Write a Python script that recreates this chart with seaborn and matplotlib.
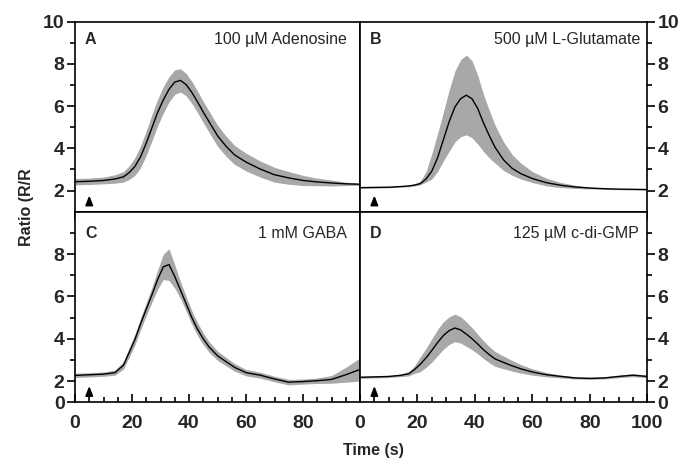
import numpy as np
import pandas as pd
import matplotlib
matplotlib.use('Agg')
import matplotlib.pyplot as plt
import seaborn as sns
from matplotlib.ticker import FixedLocator

sns.set_style('ticks')
plt.rcParams['font.family'] = ['Liberation Sans', 'DejaVu Sans']

# ---------------- data ----------------
time_s = [0, 5, 10, 14, 17, 19, 21, 23, 25, 27, 29, 31, 33, 35, 37, 39,
          41, 43, 45, 47, 50, 53, 56, 60, 65, 70, 75, 80, 85, 90, 95, 100]

a_mean = [2.42, 2.44, 2.48, 2.55, 2.65, 2.85, 3.14, 3.6, 4.25, 4.98, 5.7, 6.3,
          6.8, 7.14, 7.22, 7.02, 6.65, 6.2, 5.72, 5.27, 4.6, 4.1, 3.69, 3.35,
          3.02, 2.75, 2.6, 2.48, 2.41, 2.36, 2.32, 2.3]
a_err = [0.15, 0.15, 0.16, 0.2, 0.25, 0.32, 0.42, 0.52, 0.58, 0.62, 0.63, 0.63,
         0.6, 0.58, 0.55, 0.53, 0.52, 0.51, 0.5, 0.5, 0.5, 0.48, 0.45, 0.42,
         0.38, 0.35, 0.3, 0.24, 0.18, 0.14, 0.08, 0.05]

b_mean = [2.14, 2.15, 2.16, 2.19, 2.22, 2.26, 2.33, 2.55, 2.92, 3.55, 4.4, 5.25,
          5.95, 6.35, 6.52, 6.35, 5.88, 5.2, 4.6, 4.05, 3.45, 3.05, 2.8, 2.57,
          2.37, 2.25, 2.17, 2.12, 2.09, 2.07, 2.06, 2.05]
b_upper = [2.17, 2.18, 2.19, 2.22, 2.26, 2.32, 2.45, 2.9, 3.75, 4.7, 5.7, 6.75,
           7.65, 8.2, 8.42, 8.15, 7.45, 6.55, 5.8, 5.1, 4.3, 3.7, 3.3, 2.9,
           2.58, 2.38, 2.25, 2.17, 2.12, 2.1, 2.09, 2.08]
b_lower = [2.11, 2.12, 2.13, 2.16, 2.18, 2.22, 2.28, 2.4, 2.55, 2.9, 3.4, 3.85,
           4.3, 4.55, 4.64, 4.5, 4.2, 3.85, 3.55, 3.3, 2.95, 2.72, 2.55, 2.38,
           2.22, 2.14, 2.1, 2.08, 2.06, 2.04, 2.03, 2.02]

c_mean = [2.27, 2.3, 2.33, 2.4, 2.75, 3.35, 3.96, 4.7, 5.4, 6.08, 6.8, 7.4,
          7.5, 6.94, 6.3, 5.65, 5.0, 4.45, 4.0, 3.62, 3.2, 2.92, 2.65, 2.4,
          2.28, 2.1, 1.95, 1.98, 2.02, 2.08, 2.3, 2.55]
c_err = [0.1, 0.1, 0.1, 0.12, 0.18, 0.22, 0.25, 0.28, 0.3, 0.35, 0.45, 0.6,
         0.75, 0.55, 0.4, 0.35, 0.32, 0.3, 0.28, 0.25, 0.22, 0.2, 0.18, 0.15,
         0.14, 0.13, 0.13, 0.12, 0.13, 0.18, 0.35, 0.55]

d_mean = [2.18, 2.2, 2.22, 2.27, 2.35, 2.55, 2.8, 3.1, 3.45, 3.82, 4.15, 4.38,
          4.51, 4.42, 4.22, 4.0, 3.75, 3.48, 3.25, 3.05, 2.88, 2.72, 2.58, 2.43,
          2.3, 2.22, 2.15, 2.13, 2.15, 2.22, 2.28, 2.22]
d_err = [0.05, 0.05, 0.05, 0.06, 0.1, 0.18, 0.35, 0.45, 0.55, 0.62, 0.65, 0.65,
         0.65, 0.62, 0.58, 0.52, 0.46, 0.42, 0.38, 0.35, 0.3, 0.25, 0.2, 0.15,
         0.1, 0.07, 0.05, 0.05, 0.05, 0.06, 0.07, 0.06]

panel_letters = ['A', 'B', 'C', 'D']
panel_titles = ['100 µM Adenosine', '500 µM L-Glutamate', '1 mM GABA', '125 µM c-di-GMP']
stimulus_time = 5
x_major = [0, 20, 40, 60, 80, 100]
x_minor = [5, 10, 15, 25, 30, 35, 45, 50, 55, 65, 70, 75, 85, 90, 95]
top_yticks = [2, 4, 6, 8, 10]
top_ylabels = ['2', '4', '6', '8', '10']
bot_yticks = [1, 2, 4, 6, 8]
bot_ylabels = ['0', '2', '4', '6', '8']
y_minor = [3, 5, 7, 9]
xlabel = 'Time (s)'
ylabel = 'Ratio (R/R'

# ---------------- figure ----------------
W, H = 691, 459
fig = plt.figure(figsize=(W / 100, H / 100), dpi=100)

def fx(px):
    return px / W

def fy(py):
    return 1 - py / H

xl, xm, xr = 75, 360, 647.3
yt, ymid, yb = 21.7, 211.7, 402.3
axA = fig.add_axes([fx(xl), fy(ymid), fx(xm - xl), (ymid - yt) / H])
axB = fig.add_axes([fx(xm), fy(ymid), fx(xr - xm), (ymid - yt) / H])
axC = fig.add_axes([fx(xl), fy(yb), fx(xm - xl), (yb - ymid) / H])
axD = fig.add_axes([fx(xm), fy(yb), fx(xr - xm), (yb - ymid) / H])
axes = [axA, axB, axC, axD]

a_lo = [m - e for m, e in zip(a_mean, a_err)]
a_hi = [m + e for m, e in zip(a_mean, a_err)]
c_lo = [m - e for m, e in zip(c_mean, c_err)]
c_hi = [m + e for m, e in zip(c_mean, c_err)]
d_lo = [m - e for m, e in zip(d_mean, d_err)]
d_hi = [m + e for m, e in zip(d_mean, d_err)]

series = [(a_mean, a_lo, a_hi), (b_mean, b_lower, b_upper),
          (c_mean, c_lo, c_hi), (d_mean, d_lo, d_hi)]

band_color = '#a8a8a8'
tick_font = dict(fontsize=14, fontweight='bold')

for i, (ax, (mean, lo, hi)) in enumerate(zip(axes, series)):
    df = pd.DataFrame({'time': time_s, 'mean': mean, 'lo': lo, 'hi': hi})
    ax.fill_between(df['time'], df['lo'], df['hi'], color=band_color, lw=0)
    sns.lineplot(data=df, x='time', y='mean', ax=ax, color='black', lw=1.0)
    ax.set_xlim(0, 100)
    ax.set_ylim(1, 10)
    ax.set_xlabel('')
    ax.set_ylabel('')
    for sp in ax.spines.values():
        sp.set_visible(True)
        sp.set_linewidth(1.2)
        sp.set_color('black')

    top = i < 2
    right = i % 2 == 1

    ax.xaxis.set_major_locator(FixedLocator(x_major))
    ax.xaxis.set_minor_locator(FixedLocator(x_minor))
    ax.yaxis.set_minor_locator(FixedLocator(y_minor))
    if top:
        ax.set_yticks(top_yticks)
        ax.set_yticklabels(top_ylabels, **tick_font)
        ax.tick_params(axis='x', which='both', direction='out', labelbottom=False)
    else:
        ax.set_yticks(bot_yticks)
        ax.set_yticklabels(bot_ylabels, **tick_font)
        labels = [str(v) for v in x_major]
        if not right:
            labels[-1] = ''
        ax.set_xticklabels(labels, **tick_font)
        ax.tick_params(axis='x', which='both', direction='in', pad=9)
    ax.tick_params(axis='x', which='major', length=5.5, width=1.2, color='black')
    ax.tick_params(axis='x', which='minor', length=3.5, width=1.2, color='black')
    if right:
        ax.yaxis.tick_right()
        ax.yaxis.set_label_position('right')
    ax.tick_params(axis='y', which='both', direction='out', pad=2)
    ax.tick_params(axis='y', which='major', length=5.5, width=1.2, color='black')
    ax.tick_params(axis='y', which='minor', length=3.5, width=1.2, color='black')

    # panel letter and stimulus label
    ty = 0.907 if top else 0.885
    ax.text(0.035, ty, panel_letters[i], transform=ax.transAxes,
            ha='left', va='center', fontsize=11.5, fontweight='bold')
    tx = [0.953, 0.977, 0.953, 0.969][i]
    ax.text(tx, ty, panel_titles[i], transform=ax.transAxes,
            ha='right', va='center', fontsize=11.5)

    # stimulus arrow
    ax.annotate('', xy=(stimulus_time, 1.9), xytext=(stimulus_time, 1.38),
                arrowprops=dict(arrowstyle='-|>,head_length=0.55,head_width=0.22',
                                color='black', lw=1.3))

fig.text(fx(27), fy(207), ylabel, rotation=90, ha='center', va='center',
         fontsize=11.5, fontweight='bold')
fig.text(fx(373), fy(450), xlabel, ha='center', va='center',
         fontsize=11.5, fontweight='bold')

fig.savefig('out.png', dpi=100)
